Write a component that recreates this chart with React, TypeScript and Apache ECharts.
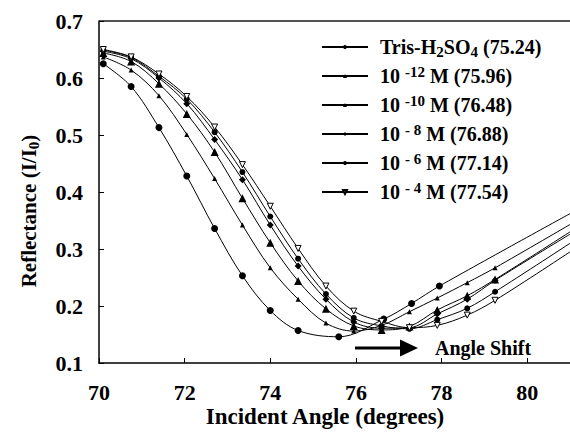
import React, { useEffect, useRef } from "react";
import * as echarts from "echarts";

const FONT = '"Liberation Serif", "Times New Roman", Times, serif';

// Incident angles (degrees) at the plotted points
const gridAngles = [70.1, 70.75, 71.4, 72.05, 72.7, 73.35, 74.0, 74.65, 75.3, 75.95, 76.6, 77.25, 77.9, 78.6, 79.25, 81];
const trisAngles = [70.1, 70.75, 71.4, 72.05, 72.7, 73.35, 74.0, 74.65, 75.6, 76.65, 77.3, 77.95, 81];

// Reflectance values
const trisR = [0.625, 0.585, 0.513, 0.428, 0.336, 0.253, 0.192, 0.157, 0.146, 0.177, 0.2045, 0.235, 0.362];
const m12R = [0.637, 0.614, 0.569, 0.501, 0.4235, 0.342, 0.267, 0.212, 0.17, 0.156, 0.166, 0.19, 0.214, 0.241, 0.267, 0.343];
const m10R = [0.644, 0.629, 0.59, 0.537, 0.47, 0.389, 0.311, 0.244, 0.195, 0.165, 0.158, 0.164, 0.193, 0.218, 0.2466, 0.33];
const m8R = [0.647, 0.634, 0.6, 0.555, 0.492, 0.4217, 0.342, 0.27, 0.212, 0.172, 0.161, 0.162, 0.186, 0.212, 0.245, 0.326];
const m6R = [0.649, 0.636, 0.603, 0.563, 0.505, 0.435, 0.357, 0.283, 0.221, 0.179, 0.165, 0.16, 0.176, 0.196, 0.225, 0.31];
const m4R = [0.65, 0.637, 0.607, 0.5676, 0.514, 0.448, 0.375, 0.301, 0.235, 0.191, 0.173, 0.162, 0.166, 0.184, 0.21, 0.295];

const seriesNames = [
  "Tris-H2SO4 (75.24)",
  "10 -12 M (75.96)",
  "10 -10 M (76.48)",
  "10 - 8 M (76.88)",
  "10 - 6 M (77.14)",
  "10 - 4 M (77.54)",
];
const legendRich = [
  "Tris-H{sub|2}SO{sub|4} (75.24)",
  "10 {sup|-12} M (75.96)",
  "10 {sup|-10} M (76.48)",
  "10 {sup|- 8} M (76.88)",
  "10 {sup|- 6} M (77.14)",
  "10 {sup|- 4} M (77.54)",
];

const yTicks = [0.1, 0.2, 0.3, 0.4, 0.5, 0.6, 0.7];
const xTicks = [70, 72, 74, 76, 78, 80];

function pairs(xs: number[], ys: number[]) {
  return ys.map((y, i) =>
    i === ys.length - 1 ? { value: [xs[i], y], symbol: "none" } : { value: [xs[i], y] }
  );
}

export default function App() {
  const ref = useRef<HTMLDivElement>(null);
  useEffect(() => {
    if (!ref.current) return;
    const chart = echarts.init(ref.current, undefined, { renderer: "svg" });
    const base = {
      type: "line",
      smooth: 0.35,
      lineStyle: { color: "#000", width: 1 },
      itemStyle: { color: "#000" },
      z: 3,
    };
    const symbolDefs = [
      { symbol: "circle", symbolSize: 7 },
      { symbol: "triangle", symbolSize: 5 },
      { symbol: "triangle", symbolSize: 8 },
      { symbol: "diamond", symbolSize: 7 },
      { symbol: "circle", symbolSize: 6 },
      { symbol: "triangle", symbolSize: 6, symbolRotate: 180, itemStyle: { color: "#fff", borderColor: "#000", borderWidth: 1 } },
    ];
    const datas = [
      pairs(trisAngles, trisR),
      pairs(gridAngles, m12R),
      pairs(gridAngles, m10R),
      pairs(gridAngles, m8R),
      pairs(gridAngles, m6R),
      pairs(gridAngles, m4R),
    ];
    const series = seriesNames.map((name, i) => ({
      ...base,
      ...symbolDefs[i],
      name,
      data: datas[i],
    }));
    const textBase = { fontFamily: FONT, fontWeight: "bold", color: "#000" };
    chart.setOption({
      animation: false,
      grid: { left: 99, right: 0, top: 21, bottom: 77, containLabel: false },
      xAxis: {
        type: "value",
        min: 70,
        max: 81,
        interval: 2,
        axisLine: { show: true, lineStyle: { color: "#000", width: 1.5 } },
        axisTick: { show: true, inside: true, length: 5, lineStyle: { color: "#000" } },
        axisLabel: {
          ...textBase,
          fontSize: 22,
          lineHeight: 20,
          margin: 19,
          showMaxLabel: false,
          formatter: (v: number) => (xTicks.includes(v) ? String(v) : ""),
        },
        splitLine: { show: false },
      },
      yAxis: {
        type: "value",
        min: 0.1,
        max: 0.7,
        interval: 0.1,
        axisLine: { show: true, lineStyle: { color: "#000", width: 1.5 } },
        axisTick: { show: true, inside: true, length: 5, lineStyle: { color: "#000" } },
        axisLabel: {
          ...textBase,
          fontSize: 22,
          margin: 16,
          formatter: (v: number) => {
            const t = yTicks.find((k) => Math.abs(k - v) < 1e-6);
            return t !== undefined ? t.toFixed(1) : "";
          },
        },
        splitLine: { show: false },
      },
      legend: {
        orient: "vertical",
        left: 321,
        top: 35,
        padding: 0,
        itemWidth: 46,
        itemHeight: 5,
        itemGap: 5,
        data: seriesNames,
        formatter: (name: string) => legendRich[seriesNames.indexOf(name)],
        textStyle: {
          ...textBase,
          fontSize: 20,
          lineHeight: 24,
          padding: [0, 0, 0, 7],
          rich: {
            sup: { ...textBase, fontSize: 15, verticalAlign: "top", lineHeight: 12 },
            sub: { ...textBase, fontSize: 15, verticalAlign: "bottom", lineHeight: 16 },
          },
        },
      },
      graphic: [
        {
          type: "line",
          shape: { x1: 99, y1: 21, x2: 570, y2: 21 },
          style: { stroke: "#555", lineWidth: 2 },
        },
        {
          type: "line",
          shape: { x1: 355, y1: 348, x2: 403, y2: 348 },
          style: { stroke: "#000", lineWidth: 3 },
        },
        {
          type: "polygon",
          shape: { points: [[400, 339.5], [418, 348], [400, 356.5]] },
          style: { fill: "#000" },
        },
        {
          type: "text",
          x: 435,
          y: 348,
          style: {
            text: "Angle Shift",
            font: `bold 20px ${FONT}`,
            fill: "#000",
            align: "left",
            verticalAlign: "middle",
          },
        },
        {
          type: "text",
          x: 325,
          y: 416,
          style: {
            text: "Incident Angle (degrees)",
            font: `bold 23px ${FONT}`,
            fill: "#000",
            align: "center",
            verticalAlign: "middle",
          },
        },
        {
          type: "text",
          x: 29,
          y: 211,
          rotation: Math.PI / 2,
          style: {
            text: "Reflectance (I/I{sub|0})",
            font: `bold 21px ${FONT}`,
            fontFamily: FONT,
            fontWeight: "bold",
            fontSize: 21,
            fill: "#000",
            align: "center",
            verticalAlign: "middle",
            lineHeight: 24,
            rich: {
              sub: { fontFamily: FONT, fontWeight: "bold", fontSize: 15, verticalAlign: "bottom", lineHeight: 15, fill: "#000" },
            },
          },
        },
      ],
      series,
    });
    return () => chart.dispose();
  }, []);
  return (
    <div
      ref={ref}
      style={{ position: "fixed", left: 0, top: 0, width: 570, height: 440, background: "#fff" }}
    />
  );
}
